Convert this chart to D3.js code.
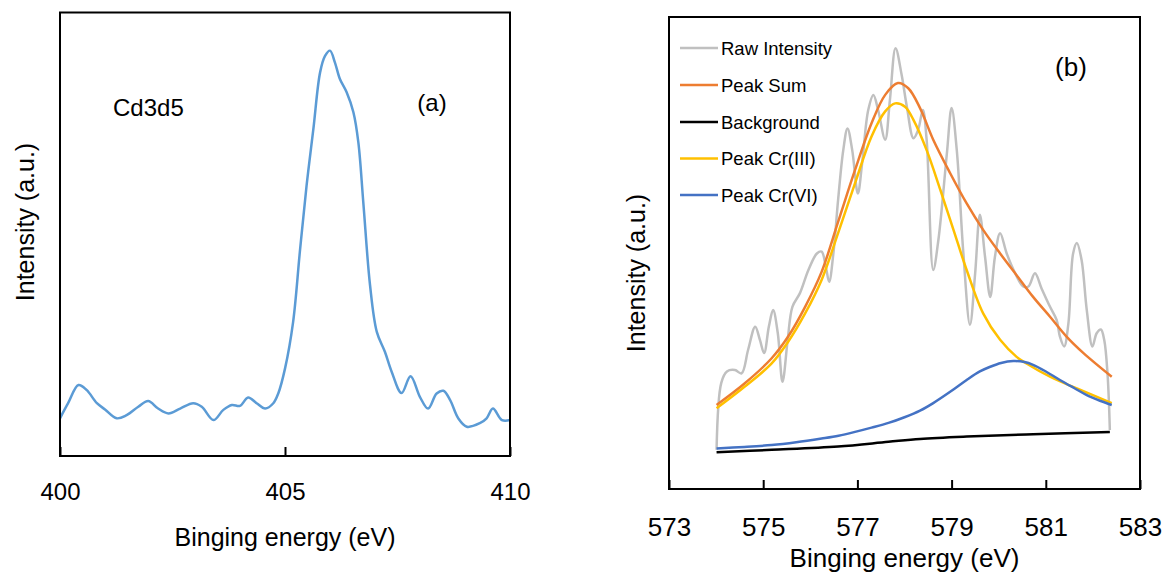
<!DOCTYPE html>
<html>
<head>
<meta charset="utf-8">
<script src="https://cdn.jsdelivr.net/npm/d3@7"></script>
<style>
    body { margin: 0; background: #fff; }
    text { font-family: Arial, "Liberation Sans", sans-serif; fill: #000; }
</style>
</head>
<body>
<div id="wrapper"></div>
<script>
// (a) Cd3d5 spectrum
const cdEnergy = [400.00,400.18,400.41,400.59,400.82,401.00,401.26,401.48,401.74,401.96,402.18,402.41,402.67,402.96,403.15,403.41,403.63,403.82,404.00,404.18,404.37,404.56,404.74,404.85,405.00,405.18,405.33,405.48,405.63,405.78,405.89,406.00,406.11,406.22,406.37,406.52,406.63,406.74,406.89,407.04,407.22,407.37,407.59,407.79,408.00,408.18,408.37,408.52,408.67,408.85,409.04,409.33,409.48,409.62,409.82,410.00];
const cdIntensity = [85,119,160,149,119,105,85,92,111,124,107,96,107,119,111,81,104,115,113,132,119,107,119,141,197,302,460,610,737,865,902,914,887,850,820,775,707,572,385,280,235,190,142,180,133,107,141,147,126,85,66,74,85,107,81,81];
const cdTicks = [400, 405, 410];

// (b) Cr spectrum and fit
const rawEnergy = [574.01,574.11,574.23,574.40,574.54,574.68,574.83,574.93,575.02,575.12,575.21,575.31,575.41,575.52,575.62,575.78,575.96,576.14,576.24,576.33,576.40,576.49,576.59,576.70,576.79,576.89,577.01,577.10,577.23,577.34,577.44,577.59,577.69,577.81,577.94,578.05,578.19,578.29,578.39,578.47,578.61,578.72,578.90,579.00,579.11,579.25,579.39,579.50,579.60,579.71,579.82,579.92,580.03,580.17,580.35,580.52,580.63,580.77,580.91,581.09,581.23,581.30,581.39,581.48,581.58,581.66,581.76,581.87,581.99,582.08,582.17,582.24,582.31,582.36];
const rawIntensity = [83,225,249,252,245,295,344,316,288,344,379,330,227,316,386,415,464,499,503,471,439,499,612,718,764,718,626,690,803,835,803,740,824,934,877,810,743,761,803,740,464,528,711,807,718,499,348,457,581,492,407,492,542,499,457,429,429,457,425,386,358,323,302,351,499,521,485,379,302,330,338,316,245,125];

const sumEnergy = [574.01,574.61,575.18,575.53,575.89,576.24,576.59,576.95,577.30,577.59,577.86,578.08,578.33,578.61,578.97,579.32,579.67,580.03,580.38,580.73,581.09,581.44,581.80,582.40];
const sumIntensity = [178,224,277,323,386,460,566,676,775,835,860,849,807,740,669,605,549,499,453,407,365,323,288,238];

const bgEnergy = [574.01,575.18,576.59,577.66,578.33,579.32,580.73,582.36];
const bgIntensity = [78,83,90,100,106,111,116,121];

const cr3Energy = [574.01,574.61,575.18,575.53,575.89,576.24,576.59,576.95,577.30,577.59,577.80,578.01,578.19,578.47,578.76,579.04,579.32,579.67,580.03,580.38,580.59,581.09,581.66,582.40];
const cr3Intensity = [171,217,266,312,372,443,542,648,747,800,817,810,782,718,634,549,464,372,316,280,266,238,213,182];

const cr6Energy = [574.01,574.60,575.18,575.70,576.24,576.60,576.95,577.30,577.66,578.00,578.33,578.61,579.00,579.32,579.60,579.82,580.05,580.31,580.55,580.73,581.00,581.30,581.60,581.87,582.15,582.40];
const cr6Intensity = [86,89,93,99,107,113,121,130,140,152,166,182,208,231,249,259,267,271,269,263,249,231,214,199,187,178];

const crTicks = [573, 575, 577, 579, 581, 583];

const legendNames = ["Raw Intensity", "Peak Sum", "Background", "Peak Cr(III)", "Peak Cr(VI)"];
const legendColors = ["#c0c0c0", "#ed7d31", "#000000", "#ffc000", "#4472c4"];

const svg = d3.select("#wrapper").append("svg")
    .attr("width", 1168)
    .attr("height", 574);

function buildPanel(p) {
    const xScaler = d3.scaleLinear().domain(p.xDomain).range([p.left, p.right]);
    const yScaler = d3.scaleLinear().domain([0, 1000]).range([p.bottom, p.top]);

    const xAxis = d3.axisBottom(xScaler)
        .tickValues(p.ticks)
        .tickSizeInner(-9)
        .tickSizeOuter(0)
        .tickPadding(p.tickPadding)
        .tickFormat(d3.format("d"));

    const axisG = svg.append("g")
        .attr("transform", `translate(0, ${p.bottom})`)
        .call(xAxis);
    axisG.select(".domain").remove();
    axisG.selectAll("line").attr("stroke", "#000").attr("stroke-width", 2);
    axisG.selectAll("text")
        .attr("font-family", "Arial, 'Liberation Sans', sans-serif")
        .attr("font-size", p.tickFont);

    const line = d3.line()
        .x(d => xScaler(d[0]))
        .y(d => yScaler(d[1]))
        .curve(d3.curveCatmullRom.alpha(0.5));

    p.series.forEach(s => {
        svg.append("path")
            .attr("d", line(d3.zip(s.x, s.y)))
            .attr("fill", "none")
            .attr("stroke", s.color)
            .attr("stroke-width", 2.5)
            .attr("stroke-linejoin", "round");
    });

    // frame
    svg.append("rect")
        .attr("x", p.left)
        .attr("y", p.top)
        .attr("width", p.right - p.left)
        .attr("height", p.bottom - p.top)
        .attr("fill", "none")
        .attr("stroke", "#000")
        .attr("stroke-width", 2);

    svg.append("text")
        .attr("x", (p.left + p.right) / 2)
        .attr("y", p.titleY)
        .attr("text-anchor", "middle")
        .style("font-size", p.titleFont + "px")
        .text("Binging energy  (eV)");

    svg.append("text")
        .attr("text-anchor", "middle")
        .attr("transform", `translate(${p.yTitleX}, ${p.yTitleY}) rotate(-90)`)
        .style("font-size", "25px")
        .text("Intensity  (a.u.)");
}

buildPanel({
    left: 60, right: 510, top: 12.5, bottom: 456,
    xDomain: [400, 410], ticks: cdTicks, tickPadding: 27, tickFont: 24,
    titleY: 546, titleFont: 25, yTitleX: 34, yTitleY: 222,
    series: [{x: cdEnergy, y: cdIntensity, color: "#5b9bd5"}]
});

buildPanel({
    left: 669, right: 1140, top: 17, bottom: 489,
    xDomain: [573, 583], ticks: crTicks, tickPadding: 29, tickFont: 26,
    titleY: 567, titleFont: 26, yTitleX: 645, yTitleY: 273,
    series: [
        {x: rawEnergy, y: rawIntensity, color: legendColors[0]},
        {x: sumEnergy, y: sumIntensity, color: legendColors[1]},
        {x: bgEnergy, y: bgIntensity, color: legendColors[2]},
        {x: cr3Energy, y: cr3Intensity, color: legendColors[3]},
        {x: cr6Energy, y: cr6Intensity, color: legendColors[4]}
    ]
});

svg.append("text")
    .attr("x", 113)
    .attr("y", 116)
    .style("font-size", "24px")
    .text("Cd3d5");

svg.append("text")
    .attr("x", 432)
    .attr("y", 111)
    .attr("text-anchor", "middle")
    .style("font-size", "24px")
    .text("(a)");

svg.append("text")
    .attr("x", 1071)
    .attr("y", 76)
    .attr("text-anchor", "middle")
    .style("font-size", "26px")
    .text("(b)");

// legend
const legendRows = [48, 85, 122, 158.5, 195];
const legend = svg.append("g");
legendNames.forEach((name, i) => {
    legend.append("line")
        .attr("x1", 680).attr("x2", 718)
        .attr("y1", legendRows[i]).attr("y2", legendRows[i])
        .attr("stroke", legendColors[i])
        .attr("stroke-width", 2.5);
    legend.append("text")
        .attr("x", 721)
        .attr("y", legendRows[i] + 6.5)
        .style("font-size", "18.5px")
        .text(name);
});
</script>
</body>
</html>
